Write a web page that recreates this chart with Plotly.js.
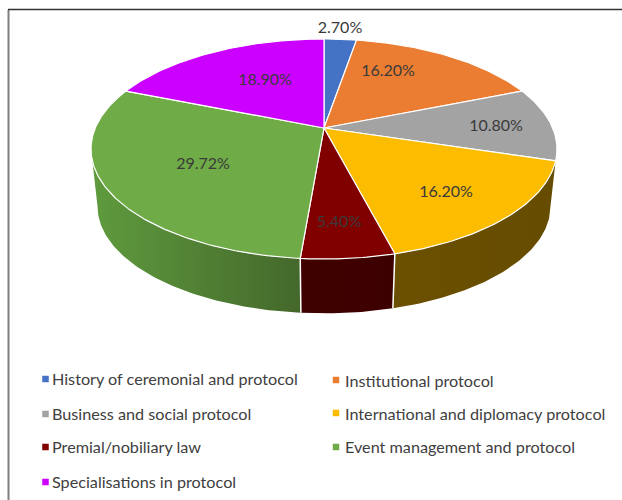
<!DOCTYPE html>
<html><head><meta charset="utf-8">
<script src="https://cdn.plot.ly/plotly-3.0.1.min.js"></script>
<style>html,body{margin:0;padding:0;background:#fff}#c{width:622px;height:500px}</style></head>
<body><div id="c"></div>
<script>
const categories = ["History of ceremonial and protocol","Institutional protocol","Business and social protocol","International and diplomacy protocol","Premial/nobiliary law","Event management and protocol","Specialisations in protocol"];
const values = [2.70,16.20,10.80,16.20,5.40,29.72,18.90];
const labels = ["2.70%","16.20%","10.80%","16.20%","5.40%","29.72%","18.90%"];
const colors = ["#4472C4","#EA7D31","#A3A3A3","#FCBC00","#800000","#6FAB47","#CC00FF"];
const rimFrom = [null,null,null,"#6b5000","#400000","#5f9b3e",null];
const rimTo   = [null,null,null,"#664c00","#3d0000","#44682b",null];

// projection of the tilted disc (perspective ellipse)
const CX=324, CY=128, K=228.7, Q=106, P=0.191;
const SILH = Math.acos(-P);          // tangent angle of the silhouette
const BOT_S=0.972, BOT_DY=58;
function proj(t,bottom){
  const d=1+P*Math.cos(t), s=bottom?BOT_S:1;
  return [CX+s*K*Math.sin(t)/d, CY+(bottom?BOT_DY:0)-s*Q*Math.cos(t)/d];
}
function arc(a,b,bottom){
  const n=Math.max(2,Math.ceil(Math.abs(b-a)/0.015)),o=[];
  for(let i=0;i<=n;i++){o.push(proj(a+(b-a)*i/n,bottom));}
  return o;
}
const total=values.reduce((a,b)=>a+b,0);
let acc=0;
const spans=values.map(v=>{const s=acc/total*2*Math.PI;acc+=v;return [s,acc/total*2*Math.PI];});

const traces=[];
// rim
spans.forEach((sp,i)=>{
  if(!rimFrom[i])return;
  const a=Math.max(sp[0],SILH), b=Math.min(sp[1],2*Math.PI-SILH);
  const pts=arc(a,b,false).concat(arc(b,a,true));
  traces.push({type:"scatter",mode:"lines",x:pts.map(p=>p[0]),y:pts.map(p=>p[1]),fill:"toself",
    line:{width:0},fillcolor:rimFrom[i],
    fillgradient:{type:"horizontal",colorscale:[[0,rimFrom[i]],[1,rimTo[i]]]},
    hoverinfo:"skip",showlegend:false});
});
// seams on the rim
spans.forEach((sp,i)=>{
  if(i<3||i>4)return;
  const t=proj(sp[1],false),u=proj(sp[1],true);
  traces.push({type:"scatter",mode:"lines",x:[t[0],u[0]],y:[t[1],u[1]],line:{color:"#fff",width:1.5},hoverinfo:"skip",showlegend:false});
});
// top wedges
spans.forEach((sp,i)=>{
  const pts=[[CX,CY]].concat(arc(sp[0],sp[1],false),[[CX,CY]]);
  traces.push({type:"scatter",mode:"lines",x:pts.map(p=>p[0]),y:pts.map(p=>p[1]),fill:"toself",
    fillcolor:colors[i],line:{color:"#fff",width:1.2},name:categories[i],hoverinfo:"name",showlegend:false});
});

// label anchors (centres of the percentage labels)
const labelX=[340,388,496,446,339,203,265];
const labelY=[29,71.5,126.5,193,222.5,165,80.5];
traces.push({type:"scatter",mode:"text",x:labelX,y:labelY,text:labels,textposition:"middle center",
  textfont:{family:"Lato, 'Open Sans', sans-serif",size:16,color:"#3a3a3a"},hoverinfo:"skip",showlegend:false,cliponaxis:false});

// legend drawn as markers plus text
const swatchX=[45.5,336,45.5,336,45.5,336,45.5];
const swatchY=[379,380,414,413,447,447,482];
const legendX=[52,345,52,345,52,345,52];
const legendY=[381,383,416,416,449,449,484];
traces.push({type:"scatter",mode:"markers",x:swatchX,y:swatchY,
  marker:{symbol:"square",size:6.5,color:colors},hoverinfo:"skip",showlegend:false,cliponaxis:false});
traces.push({type:"scatter",mode:"text",x:legendX,y:legendY,text:categories,textposition:"middle right",
  textfont:{family:"Lato, 'Open Sans', sans-serif",size:16.2,color:"#404040"},hoverinfo:"skip",showlegend:false,cliponaxis:false});

const layout={width:622,height:500,margin:{l:0,r:0,t:0,b:0},paper_bgcolor:"#fff",plot_bgcolor:"#fff",showlegend:false,
  xaxis:{range:[0,622],visible:false,fixedrange:true},
  yaxis:{range:[500,0],visible:false,fixedrange:true},
  shapes:[
    {type:"line",xref:"paper",yref:"paper",x0:8.5/622,x1:8.5/622,y0:0,y1:1-10/500,line:{color:"#7f7f7f",width:2}},
    {type:"line",xref:"paper",yref:"paper",x0:8/622,x1:1,y0:1-9.5/500,y1:1-9.5/500,line:{color:"#333",width:1.5}}
  ]};
Plotly.newPlot("c",traces,layout,{staticPlot:true,displayModeBar:false});
</script></body></html>
